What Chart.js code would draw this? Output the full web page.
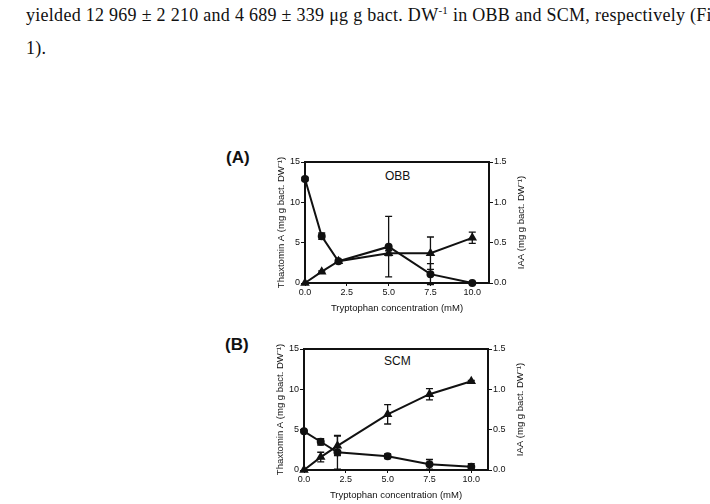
<!DOCTYPE html>
<html>
<head>
<meta charset="utf-8">
<script src="https://cdn.jsdelivr.net/npm/chart.js@4.4.0/dist/chart.umd.min.js"></script>
<style>
  body { margin: 0; background: #fff; width: 710px; height: 504px; overflow: hidden; position: relative; }
  .txt { position: absolute; left: 26px; font-family: "Liberation Serif", "Times New Roman", serif; font-size: 18px; letter-spacing: 0.28px; color: #111; white-space: nowrap; }
  .panel { position: absolute; font-family: "Liberation Sans", Arial, sans-serif; font-weight: bold; font-size: 17px; color: #111; }
  .lbl { position: absolute; font-family: "Liberation Sans", Arial, sans-serif; font-size: 12px; color: #111; }
  .box { position: absolute; }
</style>
</head>
<body>
<div class="txt" style="top:4px">yielded 12 969 ± 2 210 and 4 689 ± 339 μg g bact. DW<sup style="font-size:11px">-1</sup> in OBB and SCM, respectively (Fi</div>
<div class="txt" style="top:38px">1).</div>

<div class="panel" style="left:226px; top:148px">(A)</div>
<div class="panel" style="left:225px; top:335px">(B)</div>
<div class="lbl" style="left:385px; top:169px">OBB</div>
<div class="lbl" style="left:384px; top:354px">SCM</div>

<div class="box" style="left:272px; top:152px; width:257px; height:166px"><canvas id="chartA"></canvas></div>
<div class="box" style="left:271px; top:339px; width:257px; height:166px"><canvas id="chartB"></canvas></div>

<script>
// tryptophan concentration (mM)
const conc = [0, 1, 2, 5, 7.5, 10];
const xTicks = [0, 2.5, 5, 7.5, 10];

// (A) OBB
const thaxA = [12.9, 5.8, 2.7, 4.5, 1.1, 0.0];
const thaxErrA = [0.2, 0.4, 0, 3.75, 1.3, 0.1];
const iaaA = [0, 0.14, 0.27, 0.37, 0.37, 0.56];
const iaaErrA = [0, 0.01, 0.01, 0.03, 0.2, 0.07];

// (B) SCM
const thaxB = [4.8, 3.5, 2.2, 1.7, 0.7, 0.4];
const thaxErrB = [0.1, 0.4, 2.1, 0.3, 0.6, 0.4];
const iaaB = [0, 0.16, 0.30, 0.69, 0.94, 1.10];
const iaaErrB = [0, 0.06, 0.12, 0.12, 0.07, 0.01];

const ink = "#111";
const fam = "Liberation Sans, Arial, sans-serif";
const tickFont = { family: fam, size: 9 };

const errorBars = {
  id: "errorBars",
  afterDatasetsDraw(chart) {
    const ctx = chart.ctx;
    chart.data.datasets.forEach((ds, i) => {
      const meta = chart.getDatasetMeta(i);
      const ys = chart.scales[ds.yAxisID];
      ctx.save();
      ctx.strokeStyle = ink;
      ctx.lineWidth = 1.3;
      meta.data.forEach((pt, j) => {
        const e = ds.errors[j];
        if (!e) return;
        const v = ds.data[j].y;
        const t = ys.getPixelForValue(v + e);
        const b = ys.getPixelForValue(v - e);
        ctx.beginPath();
        ctx.moveTo(pt.x, t); ctx.lineTo(pt.x, b);
        ctx.moveTo(pt.x - 3.5, t); ctx.lineTo(pt.x + 3.5, t);
        ctx.moveTo(pt.x - 3.5, b); ctx.lineTo(pt.x + 3.5, b);
        ctx.stroke();
      });
      ctx.restore();
    });
  }
};

// top frame line + right axis title reading bottom-to-top
const frame = {
  id: "frame",
  afterDraw(chart) {
    const a = chart.chartArea, ctx = chart.ctx;
    ctx.save();
    ctx.strokeStyle = ink;
    ctx.lineWidth = 2;
    ctx.beginPath();
    ctx.moveTo(a.left - 1, a.top);
    ctx.lineTo(a.right + 1, a.top);
    ctx.stroke();
    const s = chart.scales.y1;
    ctx.translate(s.right - 8, (a.top + a.bottom) / 2);
    ctx.rotate(-Math.PI / 2);
    ctx.fillStyle = ink;
    ctx.font = "9.5px " + fam;
    ctx.textAlign = "center";
    ctx.textBaseline = "middle";
    ctx.fillText("IAA (mg g bact. DW\u207B\u00B9)", 0, 0);
    ctx.restore();
  }
};

function toPoints(vals) {
  return conc.map((x, i) => ({ x: x, y: vals[i] }));
}

function makeChart(id, thax, thaxErr, iaa, iaaErr) {
  return new Chart(document.getElementById(id), {
    type: "line",
    data: {
      datasets: [{
        label: "Thaxtomin A",
        data: toPoints(thax),
        errors: thaxErr,
        yAxisID: "y",
        borderColor: ink,
        backgroundColor: ink,
        borderWidth: 2,
        pointStyle: "circle",
        pointRadius: 3,
        clip: false
      }, {
        label: "IAA",
        data: toPoints(iaa),
        errors: iaaErr,
        yAxisID: "y1",
        borderColor: ink,
        backgroundColor: ink,
        borderWidth: 2,
        pointStyle: "triangle",
        pointRadius: 3.5,
        clip: false
      }]
    },
    options: {
      responsive: true,
      maintainAspectRatio: false,
      animation: false,
      layout: { padding: { top: 10, left: 0, right: 0, bottom: 0 } },
      plugins: { legend: { display: false }, tooltip: { enabled: false } },
      scales: {
        x: {
          type: "linear",
          min: 0,
          max: 11,
          afterBuildTicks: (s) => { s.ticks = xTicks.map(v => ({ value: v })); },
          afterFit: (s) => { s.height = 35; },
          ticks: { color: ink, font: tickFont, padding: 1, maxRotation: 0, callback: v => v.toFixed(1) },
          grid: { drawOnChartArea: false, color: ink, tickLength: 3 },
          border: { color: ink, width: 2 },
          title: { display: true, text: "Tryptophan concentration (mM)", color: ink, font: { family: fam, size: 9.5 }, padding: { top: 3, bottom: 4 } }
        },
        y: {
          position: "left",
          min: 0,
          max: 15,
          afterBuildTicks: (s) => { s.ticks = [0, 5, 10, 15].map(v => ({ value: v })); },
          afterFit: (s) => { s.width = 33; },
          ticks: { color: ink, font: tickFont, padding: 1 },
          grid: { drawOnChartArea: false, color: ink, tickLength: 4 },
          border: { color: ink, width: 2 },
          title: { display: true, text: "Thaxtomin A (mg g bact. DW\u207B\u00B9)", color: ink, font: { family: fam, size: 9.5 }, padding: { top: 4, bottom: 3 } }
        },
        y1: {
          position: "right",
          min: 0,
          max: 1.5,
          afterBuildTicks: (s) => { s.ticks = [0, 0.5, 1, 1.5].map(v => ({ value: v })); },
          afterFit: (s) => { s.width = 40; },
          ticks: { color: ink, font: tickFont, padding: 1, callback: v => v.toFixed(1) },
          grid: { drawOnChartArea: false, color: ink, tickLength: 4 },
          border: { color: ink, width: 2 },
          title: { display: false }
        }
      }
    },
    plugins: [errorBars, frame]
  });
}

makeChart("chartA", thaxA, thaxErrA, iaaA, iaaErrA);
makeChart("chartB", thaxB, thaxErrB, iaaB, iaaErrB);
</script>
</body>
</html>
